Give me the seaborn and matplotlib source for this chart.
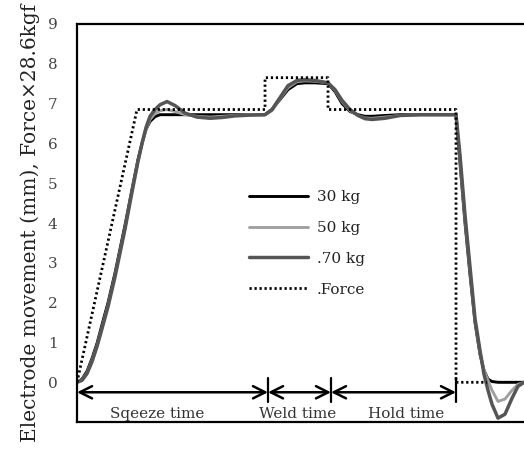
import numpy as np
import pandas as pd
import matplotlib
matplotlib.use('Agg')
import matplotlib.pyplot as plt
import seaborn as sns

# time axis in arbitrary units (no ticks shown on the original)
time = [0, 5, 10, 15, 20, 25, 31, 38, 48, 55, 61, 65, 69, 73, 78, 83, 90, 98, 108, 120,
        133, 145, 158, 173, 188, 195, 203, 211, 220, 228, 238, 251, 258, 265, 273, 281,
        288, 295, 308, 323, 343, 363, 379, 383, 388, 393, 398, 403, 407, 411, 415, 421,
        428, 435, 441, 447]

move_30 = [0, 0.08, 0.28, 0.6, 0.98, 1.45, 2.0, 2.75, 3.95, 4.85, 5.6, 6.0, 6.35, 6.55,
           6.67, 6.72, 6.72, 6.72, 6.72, 6.72, 6.72, 6.72, 6.72, 6.72, 6.72, 6.85, 7.1, 7.35,
           7.5, 7.52, 7.52, 7.5, 7.3, 7.0, 6.8, 6.72, 6.68, 6.68, 6.7, 6.72, 6.72, 6.72,
           6.72, 5.5, 4.0, 2.7, 1.5, 0.7, 0.3, 0.08, 0.02, 0, 0, 0, 0, 0]

move_50 = [0, 0.06, 0.24, 0.55, 0.92, 1.38, 1.93, 2.68, 3.88, 4.8, 5.55, 5.98, 6.35, 6.6,
           6.75, 6.82, 6.85, 6.8, 6.72, 6.68, 6.66, 6.68, 6.7, 6.72, 6.72, 6.82, 7.12, 7.4,
           7.55, 7.57, 7.56, 7.52, 7.33, 7.05, 6.82, 6.7, 6.64, 6.63, 6.66, 6.7, 6.72, 6.72,
           6.72, 5.6, 4.1, 2.8, 1.55, 0.75, 0.3, 0.05, -0.2, -0.48, -0.42, -0.2, -0.05, 0]

move_70 = [0, 0.05, 0.22, 0.52, 0.9, 1.35, 1.9, 2.65, 3.85, 4.78, 5.55, 6.0, 6.4, 6.68,
           6.85, 6.97, 7.05, 6.95, 6.76, 6.66, 6.63, 6.65, 6.69, 6.71, 6.72, 6.85, 7.15, 7.45,
           7.58, 7.6, 7.58, 7.52, 7.35, 7.08, 6.85, 6.7, 6.62, 6.6, 6.63, 6.7, 6.72, 6.72,
           6.72, 5.7, 4.2, 2.9, 1.6, 0.8, 0.2, -0.2, -0.55, -0.9, -0.8, -0.4, -0.1, 0]

force_time = [0, 60, 188, 188, 251, 251, 379, 379, 410]
force_val = [0, 6.85, 6.85, 7.65, 7.65, 6.85, 6.85, 0, 0]

# phase boundaries for the arrows, and where each phase name sits
phase_edges = [0, 191, 254, 379]
phase_names = ['Sqeeze time', 'Weld time', 'Hold time']
phase_label_x = [80, 221, 329]

sns.set_style('white')
plt.rcParams['font.family'] = ['DejaVu Serif']

fig = plt.figure(figsize=(5.24, 4.51), dpi=100)
ax = fig.add_axes([0.147, 0.064, 0.853, 0.883])

df = pd.DataFrame({'time': time, '30 kg': move_30, '50 kg': move_50, '70 kg': move_70})
sns.lineplot(data=df, x='time', y='30 kg', ax=ax, color='black', lw=2.1, label='30 kg', sort=False)
sns.lineplot(data=df, x='time', y='50 kg', ax=ax, color='#a0a0a0', lw=2.1, label='50 kg', sort=False)
sns.lineplot(data=df, x='time', y='70 kg', ax=ax, color='#555555', lw=2.5, label='.70 kg', sort=False)
ax.plot(force_time, force_val, color='black', lw=2.0, ls=(0, (0.8, 1.0)), label='.Force')

# phase arrows
arrow_y = -0.25
for a, b in zip(phase_edges[:-1], phase_edges[1:]):
    ax.annotate('', xy=(a, arrow_y), xytext=(b, arrow_y),
                arrowprops=dict(arrowstyle='<->', color='black', lw=1.8,
                                mutation_scale=22, shrinkA=0, shrinkB=0))
for e in phase_edges[1:]:
    ax.plot([e, e], [0.1, -0.5], color='black', lw=1.6)
for x, name in zip(phase_label_x, phase_names):
    ax.text(x, -0.8, name, ha='center', va='center', fontsize=11, color='#333333')

ax.set_xlim(0, 447)
ax.set_ylim(-1, 9)
ax.set_yticks(range(0, 10))
ax.set_xticks([])
ax.tick_params(axis='y', length=0, pad=14, labelsize=11, labelcolor='#444444')
ax.set_xlabel('')
ax.set_ylabel('Electrode movement (mm), Force×28.6kgf', fontsize=14.5, color='#222222', labelpad=6)
for s in ['left', 'top', 'bottom']:
    ax.spines[s].set_color('black')
    ax.spines[s].set_linewidth(1.6)
ax.spines['right'].set_visible(False)

ax.legend(loc='upper left', bbox_to_anchor=(0.355, 0.617), frameon=False, fontsize=11,
          handlelength=3.8, labelspacing=1.1, handletextpad=0.6, labelcolor='#222222')

fig.savefig('out.png', dpi=100)
